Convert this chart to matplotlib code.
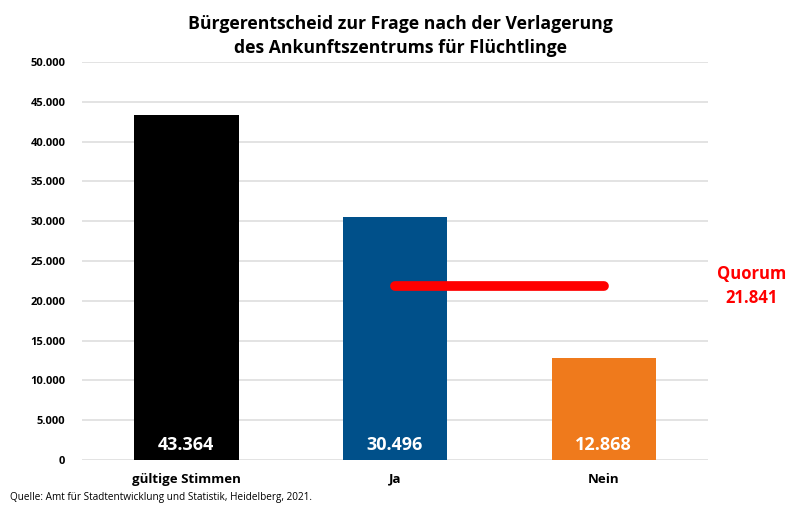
import matplotlib.pyplot as plt

plt.rcParams['font.family'] = ['Open Sans', 'DejaVu Sans']

categories = ['gültige Stimmen', 'Ja', 'Nein']
values = [43364, 30496, 12868]
value_labels = ['43.364', '30.496', '12.868']
colors = ['#000000', '#00508a', '#ef7a1c']
quorum = 21841
yticks = [0, 5000, 10000, 15000, 20000, 25000, 30000, 35000, 40000, 45000, 50000]
ytick_labels = ['0', '5.000', '10.000', '15.000', '20.000', '25.000', '30.000',
                '35.000', '40.000', '45.000', '50.000']

fig = plt.figure(figsize=(8, 5.16), dpi=100)
ax = fig.add_axes([0.1025, 0.1085, 0.7825, 0.7713])

x = range(len(categories))
ax.bar(x, values, width=0.5, color=colors, zorder=3)
for i, v in enumerate(values):
    ax.text(i, 1900, value_labels[i], ha='center', va='center', color='white',
            fontsize=13, fontweight='bold', zorder=4)

# quorum line from Ja to Nein
ax.plot([1, 2], [quorum, quorum], color='#ff0000', lw=7, solid_capstyle='round', zorder=5)
ax.text(1.07, 0.437, 'Quorum\n21.841', transform=ax.transAxes, ha='center', va='center',
        color='#ff0000', fontsize=12, fontweight='bold', linespacing=1.45)

ax.set_xlim(-0.5, 2.5)
ax.set_ylim(0, 50000)
ax.set_yticks(yticks)
ax.set_yticklabels(ytick_labels, fontsize=8, fontweight='bold')
ax.set_xticks(list(x))
ax.set_xticklabels(categories, fontsize=9.5, fontweight='bold')
ax.tick_params(length=0)
ax.tick_params(axis='y', pad=12)
ax.tick_params(axis='x', pad=9)
ax.grid(axis='y', color='#e0e0e0', lw=1.3, zorder=0)
for s in ax.spines.values():
    s.set_visible(False)

fig.text(0.5, 0.93, 'Bürgerentscheid zur Frage nach der Verlagerung\ndes Ankunftszentrums für Flüchtlinge',
         ha='center', va='center', fontsize=12.7, fontweight='bold', linespacing=1.45)
fig.text(0.0125, 0.035, 'Quelle: Amt für Stadtentwicklung und Statistik, Heidelberg, 2021.',
         ha='left', va='center', fontsize=7.2)

fig.savefig('out.png', dpi=100)
